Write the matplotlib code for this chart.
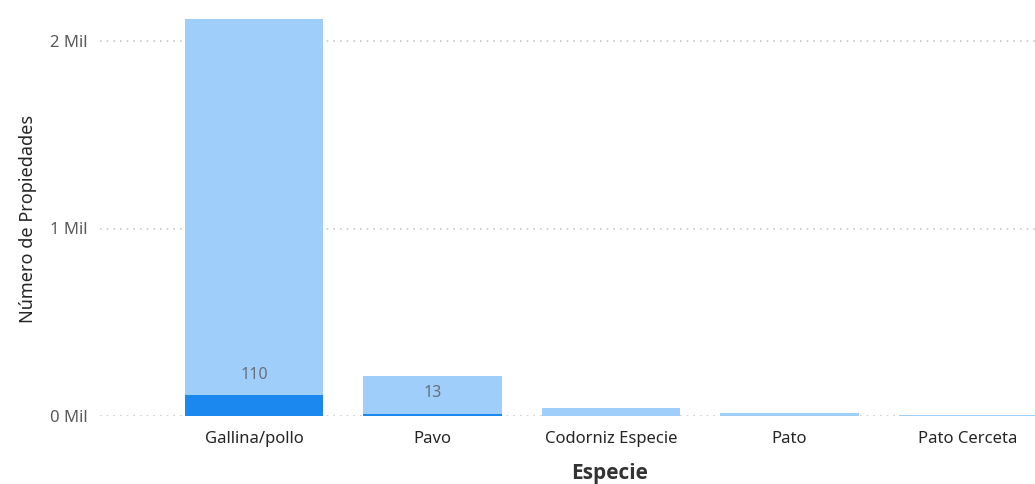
import numpy as np
import matplotlib.pyplot as plt

plt.rcParams['font.family'] = ['Noto Sans', 'DejaVu Sans']

especies = ['Gallina/pollo', 'Pavo', 'Codorniz Especie', 'Pato', 'Pato Cerceta']
total_propiedades = [2120, 213, 45, 15, 8]
propiedades_marcadas = [110, 13, 1, 0, 0]
etiquetas_visibles = [True, True, False, False, False]

yticks = [0, 1000, 2000]
ytick_labels = ['0 Mil', '1 Mil', '2 Mil']

color_claro = '#9fcefa'
color_oscuro = '#1a88ee'

fig = plt.figure(figsize=(10.35, 4.84), dpi=100)
ax = fig.add_axes([100 / 1035, 68 / 484, 935 / 1035, 412.5 / 484])

x = np.arange(len(especies))
ax.bar(x, total_propiedades, width=0.775, color=color_claro, zorder=2)
ax.bar(x, propiedades_marcadas, width=0.775, color=color_oscuro, zorder=3)

# etiqueta de datos sobre el segmento oscuro
for xi, v, show in zip(x, propiedades_marcadas, etiquetas_visibles):
    if show:
        ax.annotate(str(v), (xi, v), xytext=(0, 15), textcoords='offset points',
                    ha='center', va='center', fontsize=11.5, color='#66707a', zorder=4)

ax.set_xlim(-0.863, 4.375)
ax.set_ylim(0, 2200)
ax.set_yticks(yticks)
ax.set_yticklabels(ytick_labels)
ax.set_xticks(x)
ax.set_xticklabels(especies)

ax.tick_params(axis='y', length=0, pad=9, labelsize=12, labelcolor='#5a5a5a')
ax.tick_params(axis='x', length=0, pad=11, labelsize=12, labelcolor='#252525')
ax.grid(axis='y', linestyle=(0, (1, 3)), color='#c8c8c8', linewidth=1.2, zorder=0)
for s in ax.spines.values():
    s.set_visible(False)

ax.set_ylabel('Número de Propiedades', fontsize=13, color='#252525')
ax.yaxis.set_label_coords(-0.067, 0.478)
ax.set_xlabel('Especie', fontsize=15, fontweight='bold', color='#333333',
              family=['Open Sans', 'DejaVu Sans'])
ax.xaxis.set_label_coords(0.545, -0.115)

fig.savefig('out.png', dpi=100)
